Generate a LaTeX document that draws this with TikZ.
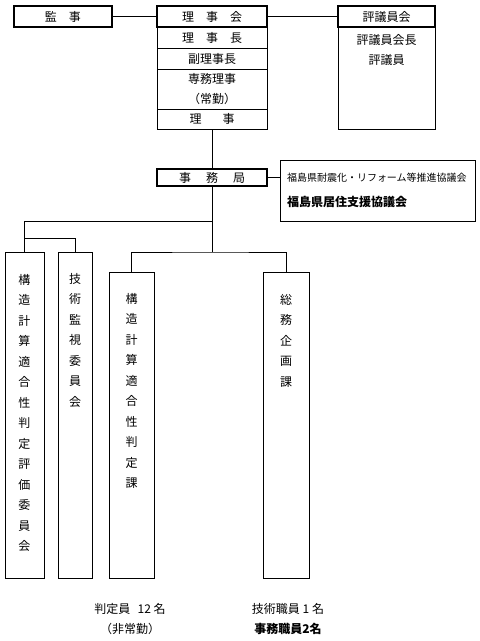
\documentclass[tikz,border=0pt]{standalone}
\usepackage{fontspec}
\setmainfont{Noto Sans CJK JP}
\usetikzlibrary{positioning}
\tikzset{
    orgHead/.style={
        draw,
        line width=1.5pt,
        outer sep=0pt,
        inner sep=0pt,
        minimum height=21pt,
        font=\fontsize{12}{14}\selectfont
    },
    orgRow/.style={
        draw,
        line width=0.8pt,
        outer sep=0pt,
        inner sep=0pt,
        minimum width=110pt,
        minimum height=21pt,
        align=center,
        font=\fontsize{12}{20}\selectfont
    },
    orgCol/.style={
        draw,
        line width=0.8pt,
        outer sep=0pt,
        inner sep=0pt,
        anchor=north
    },
    orgTate/.style={
        anchor=north,
        inner sep=0pt,
        align=center,
        yshift=-22pt,
        font=\fontsize{12}{20.5}\selectfont
    },
    orgLine/.style={
        line width=0.8pt
    },
    orgNote/.style={
        align=center,
        font=\fontsize{12}{20}\selectfont
    }
}

\begin{document}
\begin{tikzpicture}[x=1pt,y=-1pt]
        \useasboundingbox (0,0) rectangle (480,641);

        % board
        \node[orgHead,minimum width=110pt] (rijikai) at (212,16.5) {理\hspace{1em}事\hspace{1em}会};
        \node[orgRow,below=0pt of rijikai] (rijicho) {理\hspace{1em}事\hspace{1em}長};
        \node[orgRow,below=0pt of rijicho] (fukuriji) {副理事長};
        \node[orgRow,minimum height=40pt,below=0pt of fukuriji] (senmu) {専務理事\\（常勤）};
        \node[orgRow,minimum height=20pt,below=0pt of senmu] (riji) {理\hspace{1.75em}事};

        \node[orgHead,minimum width=98pt] (kanji) at (63,16.5) {監\hspace{1em}事};
        \node[orgHead,minimum width=97pt] (hyogiin) at (386.5,16.5) {評議員会};
        \node[orgRow,minimum width=97pt,minimum height=102pt,below=0pt of hyogiin] (hyogiinBody) {};
        \node[orgTate,yshift=15pt,font=\fontsize{12}{20}\selectfont] (hyogiinTxt) at (hyogiinBody.north) {評議員会長\\評議員};

        % secretariat
        \node[orgHead,minimum width=110pt,minimum height=17pt] (jimu) at (212,177.5) {事\hspace{1.25em}務\hspace{1.25em}局};
        \node[draw,line width=0.8pt,outer sep=0pt,inner xsep=7pt,inner ysep=0pt,
              minimum width=195pt,minimum height=61pt,text width=181pt,align=left,
              font=\fontsize{10}{25}\selectfont] (kyogi) at (377.5,190.5)
              {福島県耐震化・リフォーム等推進協議会\\{\fontsize{12}{25}\selectfont\bfseries 福島県居住支援協議会}};

        % columns
        \node[orgCol,minimum width=39pt,minimum height=326pt] (hyoka) at (24.5,252) {};
        \node[orgCol,minimum width=34pt,minimum height=326pt] (kanshi) at (75,252) {};
        \node[orgCol,minimum width=45pt,minimum height=306pt] (hantei) at (131.5,272) {};
        \node[orgCol,minimum width=46pt,minimum height=306pt] (somu) at (286,272) {};

        \node[orgTate] (hyokaTxt) at (hyoka.north) {構\\造\\計\\算\\適\\合\\性\\判\\定\\評\\価\\委\\員\\会};
        \node[orgTate,yshift=1pt] (kanshiTxt) at (kanshi.north) {技\\術\\監\\視\\委\\員\\会};
        \node[orgTate,yshift=1pt] (hanteiTxt) at (hantei.north) {構\\造\\計\\算\\適\\合\\性\\判\\定\\課};
        \node[orgTate] (somuTxt) at (somu.north) {総\\務\\企\\画\\課};

        \node[orgNote] (hanteiin) at (130,619) {判定員\hspace{0.6em}12 名\\（非常勤）};
        \node[orgNote] (shokuin) at (288,619) {技術職員 1 名\\\textbf{事務職員2名}};

        \coordinate (b1) at (212,221);
        \coordinate (b2) at (212,252);
        \coordinate (b3) at (24.5,238);

        \draw[orgLine] (kanji) -- (rijikai);
        \draw[orgLine] (rijikai) -- (hyogiin);
        \draw[orgLine] (riji.south) -- (jimu.north);
        \draw[orgLine] (jimu.south) -- (b2);
        \draw[orgLine] (jimu.east) -- (kyogi.west |- jimu.east);
        \draw[orgLine] (b1) -| (hyoka.north);
        \draw[orgLine] (b3) -| (kanshi.north);
        \draw[orgLine] (hantei.north) |- (b2) -| (somu.north);
    \end{tikzpicture}
\end{document}
